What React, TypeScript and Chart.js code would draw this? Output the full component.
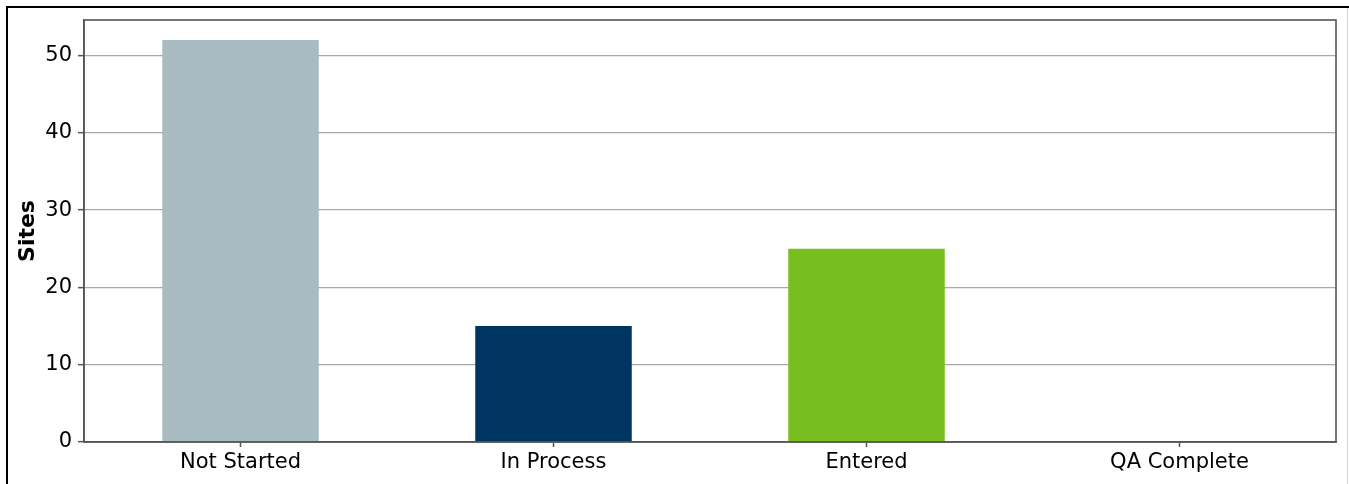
import React, { useEffect, useRef } from "react";
import { Chart, registerables } from "chart.js";

Chart.register(...registerables);

const categories = ["Not Started", "In Process", "Entered", "QA Complete"];
const siteCounts = [52, 15, 25, 0];
const barColors = ["#a7bbc1", "#003562", "#78be20", "#cccccc"];
const yTicks = [0, 10, 20, 30, 40, 50];
const yMax = 54.6;

const framePlugin = {
  id: "framePlugin",
  afterDatasetsDraw(chart: any) {
    const { ctx, chartArea } = chart;
    ctx.save();
    ctx.strokeStyle = "#555555";
    ctx.lineWidth = 1.6;
    ctx.strokeRect(chartArea.left, chartArea.top, chartArea.right - chartArea.left, chartArea.bottom - chartArea.top);
    ctx.restore();
  },
  afterDraw(chart: any) {
    const { ctx, width, height } = chart;
    ctx.save();
    ctx.strokeStyle = "#000000";
    ctx.lineWidth = 2;
    ctx.beginPath();
    ctx.moveTo(7, height);
    ctx.lineTo(7, 7);
    ctx.lineTo(width, 7);
    ctx.stroke();
    ctx.strokeStyle = "#d8d8d8";
    ctx.lineWidth = 1;
    ctx.beginPath();
    ctx.moveTo(width - 1.5, 8);
    ctx.lineTo(width - 1.5, height);
    ctx.stroke();
    ctx.restore();
  },
};

export default function App() {
  const ref = useRef<HTMLCanvasElement | null>(null);
  useEffect(() => {
    document.body.style.margin = "0";
    const canvas = ref.current;
    if (!canvas) return;
    const chart = new Chart(canvas, {
      type: "bar",
      data: {
        labels: categories,
        datasets: [
          {
            data: siteCounts,
            backgroundColor: barColors,
            borderWidth: 0,
            barPercentage: 0.5,
            categoryPercentage: 1,
          },
        ],
      },
      options: {
        animation: false,
        responsive: false,
        maintainAspectRatio: false,
        layout: { padding: { left: 0, top: 20, right: 13, bottom: 0 } },
        plugins: { legend: { display: false }, tooltip: { enabled: false } },
        scales: {
          x: {
            offset: true,
            grid: {
              display: true,
              offset: false,
              drawOnChartArea: false,
              drawTicks: true,
              tickLength: 5,
              tickColor: "#555555",
              tickWidth: 1.5,
            },
            border: { display: true, color: "#555555", width: 1.6 },
            ticks: {
              color: "#000000",
              font: { family: "DejaVu Sans", size: 21 },
              padding: 3,
              maxRotation: 0,
            },
            afterFit(scale: any) {
              scale.height = 42;
            },
          },
          y: {
            min: 0,
            max: yMax,
            afterBuildTicks(scale: any) {
              scale.ticks = yTicks.map((v) => ({ value: v }));
            },
            grid: {
              color: "#a8a8a8",
              lineWidth: 1.3,
              drawTicks: true,
              tickLength: 6,
              tickColor: "#555555",
              tickWidth: 1.5,
            },
            border: { display: true, color: "#555555", width: 1.6 },
            ticks: {
              color: "#000000",
              font: { family: "DejaVu Sans", size: 21 },
              padding: 6,
            },
            title: {
              display: true,
              text: "Sites",
              color: "#000000",
              font: { family: "DejaVu Sans", size: 22, weight: "bold" },
              padding: { top: 15, bottom: 0 },
            },
            afterFit(scale: any) {
              scale.width = 84;
            },
          },
        },
      },
      plugins: [framePlugin],
    });
    return () => chart.destroy();
  }, []);
  return (
    <div style={{ position: "relative", width: 1349, height: 484 }}>
      <canvas ref={ref} width={1349} height={484} style={{ display: "block", width: 1349, height: 484 }} />
    </div>
  );
}
